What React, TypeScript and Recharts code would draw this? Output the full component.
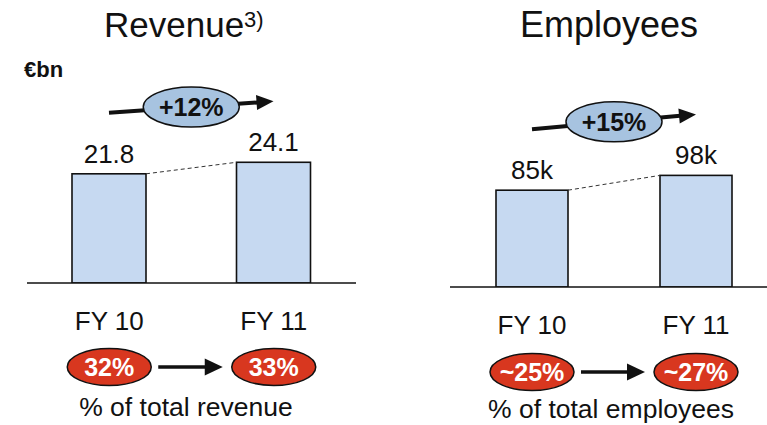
import React from "react";
import { Bar, BarChart, LabelList, XAxis, YAxis } from "recharts";

const YEARS = ["FY 10", "FY 11"];
const REVENUE = [21.8, 24.1];
const EMPLOYEES = [85, 98];
const REVENUE_SHARE = ["32%", "33%"];
const EMPLOYEE_SHARE = ["~25%", "~27%"];
const REVENUE_GROWTH = "+12%";
const EMPLOYEE_GROWTH = "+15%";

const FONT = '"Liberation Sans", Arial, Helvetica, sans-serif';
const INK = "#111";
const BAR_FILL = "#c6d9f1";
const GROWTH_FILL = "#a7c3e0";
const SHARE_FILL = "#d8371f";
const SHARE_RX = 42;

function Arrow({ x1, y1, x2, y2, width, head, half }: any) {
  const len = Math.hypot(x2 - x1, y2 - y1);
  const ux = (x2 - x1) / len;
  const uy = (y2 - y1) / len;
  const bx = x2 - ux * head;
  const by = y2 - uy * head;
  const px = -uy * half;
  const py = ux * half;
  return (
    <g>
      <line x1={x1} y1={y1} x2={bx + ux} y2={by + uy} stroke={INK} strokeWidth={width} />
      <polygon points={`${x2},${y2} ${bx + px},${by + py} ${bx - px},${by - py}`} fill={INK} />
    </g>
  );
}

type PanelProps = {
  values: number[];
  share: string[];
  growth: string;
  unit: string;
  left: number;
  width: number;
  plotLeft: number;
  plotWidth: number;
  baseY: number;
  yMax: number;
  barSize: number;
  shareDy: number;
};

function Panel(props: PanelProps) {
  const { values, share, growth, unit, left, width, plotLeft, plotWidth, baseY, yMax, barSize, shareDy } = props;
  const data = YEARS.map((year, i) => ({ year, value: values[i] }));
  const bars: { x: number; y: number; w: number }[] = [];
  const ticks: number[] = [];

  // bar tops are remembered so the second bar can draw the dashed link and growth arrow
  const renderBar = (p: any) => {
    const { x, y, width: w, height: h, index } = p;
    bars[index] = { x, y, w };
    const prev = index > 0 ? bars[index - 1] : null;
    let extra = null;
    if (prev) {
      const sx = prev.x + prev.w / 2;
      const sy = prev.y - 61;
      const ex = x + w / 2;
      const ey = y - 61;
      const mx = (sx + ex) / 2;
      const my = (sy + ey) / 2;
      extra = (
        <g>
          <line x1={prev.x + prev.w} y1={prev.y} x2={x} y2={y} stroke="#333" strokeWidth={1} strokeDasharray="4 3" />
          <Arrow x1={sx} y1={sy} x2={ex} y2={ey} width={4} head={17} half={7.5} />
          <ellipse cx={mx} cy={my} rx={48} ry={20} fill={GROWTH_FILL} stroke={INK} strokeWidth={1.5} />
          <text x={mx} y={my + 9} textAnchor="middle" fontFamily={FONT} fontSize={25} fontWeight="bold" fill={INK}>
            {growth}
          </text>
        </g>
      );
    }
    return (
      <g>
        <rect x={x} y={y} width={w} height={h} fill={BAR_FILL} stroke={INK} strokeWidth={1.6} />
        {extra}
      </g>
    );
  };

  const renderTick = (p: any) => {
    const { x, y, payload } = p;
    const index = p.index ?? payload.index ?? 0;
    ticks[index] = x;
    const cy = y + shareDy;
    const prevX = index > 0 ? ticks[index - 1] : null;
    return (
      <g>
        <text x={x} y={y + 47} textAnchor="middle" fontFamily={FONT} fontSize={26} fill={INK}>
          {payload.value}
        </text>
        {prevX != null && (
          <Arrow x1={prevX + SHARE_RX + 7} y1={cy} x2={x - SHARE_RX - 9} y2={cy} width={3.5} head={18} half={8.5} />
        )}
        <ellipse cx={x} cy={cy} rx={SHARE_RX} ry={18.5} fill={SHARE_FILL} stroke={INK} strokeWidth={1.5} />
        <text x={x} y={cy + 9} textAnchor="middle" fontFamily={FONT} fontSize={25} fontWeight="bold" fill="#fff">
          {share[index]}
        </text>
      </g>
    );
  };

  return (
    <div style={{ position: "absolute", left, top: 0 }}>
      <BarChart
        width={width}
        height={425}
        data={data}
        margin={{ top: 0, right: width - plotLeft - plotWidth, bottom: 0, left: plotLeft }}
      >
        <XAxis
          dataKey="year"
          height={425 - baseY}
          axisLine={{ stroke: INK, strokeWidth: 1.5 }}
          tickLine={false}
          tickSize={0}
          tickMargin={0}
          interval={0}
          tick={renderTick}
        />
        <YAxis hide type="number" domain={[0, yMax]} allowDataOverflow />
        <Bar dataKey="value" barSize={barSize} shape={renderBar} isAnimationActive={false}>
          <LabelList
            dataKey="value"
            position="top"
            offset={11}
            formatter={(v: any) => `${v}${unit}`}
            style={{ fontFamily: FONT, fontSize: 26, fill: INK }}
          />
        </Bar>
      </BarChart>
    </div>
  );
}

export default function App() {
  return (
    <div
      style={{
        position: "absolute",
        left: 0,
        top: 0,
        width: 767,
        height: 425,
        overflow: "hidden",
        background: "#fff",
        fontFamily: FONT,
      }}
    >
      <Panel
        values={REVENUE}
        share={REVENUE_SHARE}
        growth={REVENUE_GROWTH}
        unit=""
        left={0}
        width={384}
        plotLeft={27}
        plotWidth={329}
        baseY={283}
        yMax={56.5}
        barSize={74}
        shareDy={84}
      />
      <Panel
        values={EMPLOYEES}
        share={EMPLOYEE_SHARE}
        growth={EMPLOYEE_GROWTH}
        unit="k"
        left={384}
        width={400}
        plotLeft={66}
        plotWidth={328}
        baseY={287}
        yMax={252}
        barSize={72}
        shareDy={85}
      />
      <svg width={767} height={425} style={{ position: "absolute", left: 0, top: 0, pointerEvents: "none" }}>
        <text x={104} y={37} fontFamily={FONT} fontSize={35} fill={INK}>
          Revenue
          <tspan fontSize={22} dy={-10}>3)</tspan>
        </text>
        <text x={609} y={37} textAnchor="middle" fontFamily={FONT} fontSize={36} fill={INK}>
          Employees
        </text>
        <text x={24} y={77} fontFamily={FONT} fontSize={22} fontWeight="bold" fill={INK}>
          €bn
        </text>
        <text x={186} y={416} textAnchor="middle" fontFamily={FONT} fontSize={26.5} fill={INK}>
          % of total revenue
        </text>
        <text x={611} y={418} textAnchor="middle" fontFamily={FONT} fontSize={26.5} fill={INK}>
          % of total employees
        </text>
      </svg>
    </div>
  );
}
